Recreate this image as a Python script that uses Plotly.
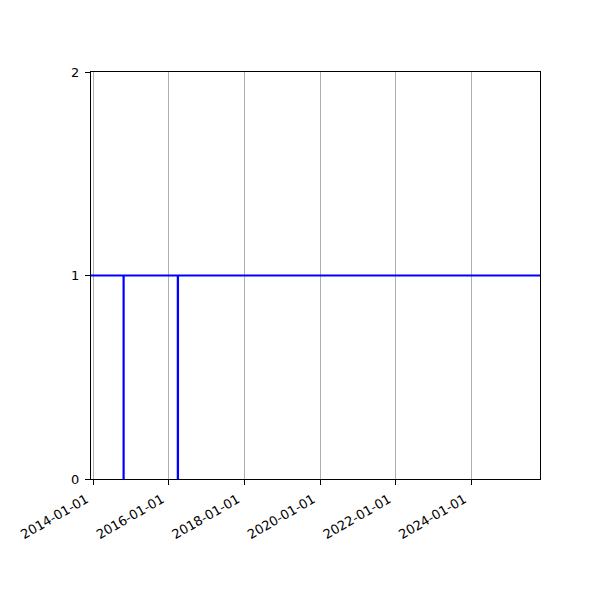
import plotly.graph_objects as go

# step series: value 1 everywhere except two short outages
dates = ['2013-12-10', '2014-10-20', '2014-10-22', '2016-03-27', '2016-03-30', '2025-10-26']
values = [1, 0, 1, 0, 1, 1]

tick_dates = ['2014-01-01', '2016-01-01', '2018-01-01', '2020-01-01', '2022-01-01', '2024-01-01']
y_ticks = [0, 1, 2]

fig = go.Figure()
fig.add_trace(go.Scatter(
    x=dates,
    y=values,
    mode='lines',
    line=dict(color='#0000ff', width=2, shape='hv'),
    showlegend=False,
))

# the page body adds an 8px offset, so margins are trimmed to compensate
fig.update_layout(
    width=600,
    height=600,
    margin=dict(l=83, r=68, t=64, b=129),
    plot_bgcolor='white',
    paper_bgcolor='white',
    font=dict(family='DejaVu Sans', size=13, color='black'),
    xaxis=dict(
        type='date',
        range=[dates[0], dates[-1]],
        tickvals=tick_dates,
        ticktext=tick_dates,
        tickangle=-30,
        ticklabelshift=-7,
        ticklabelstandoff=2,
        automargin=False,
        showgrid=True,
        gridcolor='#b0b0b0',
        gridwidth=1,
        showline=True,
        linecolor='black',
        linewidth=1,
        mirror=True,
        ticks='outside',
        ticklen=5,
        tickcolor='black',
        zeroline=False,
    ),
    yaxis=dict(
        range=[0, 2],
        tickvals=y_ticks,
        ticklabelstandoff=3,
        automargin=False,
        showgrid=False,
        showline=True,
        linecolor='black',
        linewidth=1,
        mirror=True,
        ticks='outside',
        ticklen=5,
        tickcolor='black',
        zeroline=False,
    ),
)

fig.write_html("out.html")
